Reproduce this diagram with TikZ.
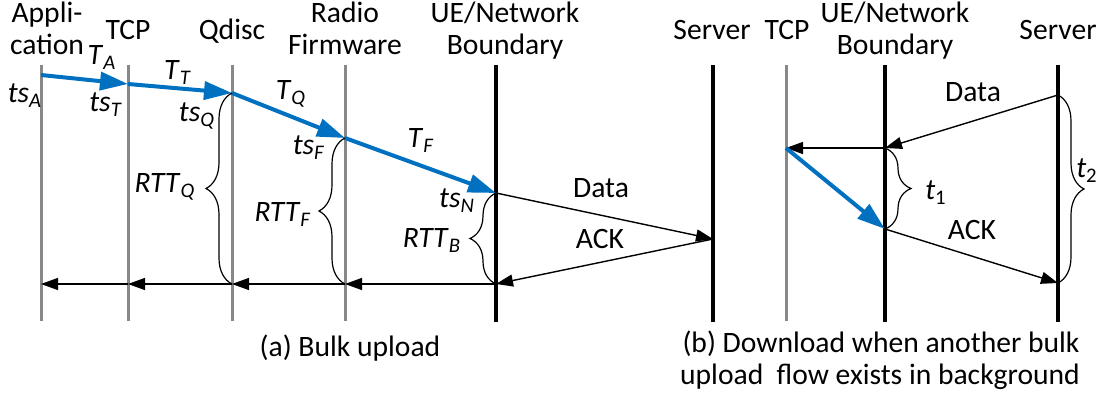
\documentclass[tikz,border=0pt]{standalone}
\usepackage{fontspec}
\setmainfont{Carlito}
\usetikzlibrary{arrows.meta,decorations.pathreplacing}
\definecolor{linegray}{RGB}{136,136,136}
\definecolor{arrowblue}{RGB}{0,112,192}
\newcommand\sublab[2]{\textit{#1}\textsubscript{\textit{#2}}}
\begin{document}
\begin{tikzpicture}[x=0.5pt,y=-0.5pt,
  every node/.style={font=\fontsize{14.8}{16}\selectfont, inner sep=0pt},
  lbl/.style={anchor=base},
  grayline/.style={draw=linegray, line width=1.5pt},
  blackline/.style={draw=black, line width=1.6pt},
  flow/.style={draw=arrowblue, line width=2pt, -{Triangle[length=14pt,width=9pt]}},
  msg/.style={draw=black, line width=0.7pt, -{Triangle[length=8.5pt,width=6pt]}},
  bracestyle/.style={draw=black, line width=0.6pt, decorate, decoration={brace, amplitude=13pt}},
]
\useasboundingbox (0,0) rectangle (1103,400);

% timelines
\foreach \n/\x in {app/41, tcp/128, qd/232, rf/345, tcpb/786}{
  \coordinate (\n top) at (\x,65);
  \coordinate (\n bot) at (\x,321);
  \draw[grayline] (\n top) -- (\n bot);
}
\foreach \n/\x in {ue/496, srv/713, ueb/885, srvb/1058}{
  \coordinate (\n top) at (\x,65);
  \coordinate (\n bot) at (\x,322);
  \draw[blackline] (\n top) -- (\n bot);
}

% headers
\node[lbl] (h1a) at (47,23) {Appli-};
\node[lbl] (h1b) at (47,55) {cation};
\node[lbl] (h2) at (128,40) {TCP};
\node[lbl] (h3) at (232,40) {Qdisc};
\node[lbl] (h4a) at (345,23) {Radio};
\node[lbl] (h4b) at (345,55) {Firmware};
\node[lbl] (h5a) at (505,23) {UE/Network};
\node[lbl] (h5b) at (505,55) {Boundary};
\node[lbl] (h6) at (712,40) {Server};
\node[lbl] (h7) at (787,40) {TCP};
\node[lbl] (h8a) at (895,23) {UE/Network};
\node[lbl] (h8b) at (895,55) {Boundary};
\node[lbl] (h9) at (1058,40) {Server};

% event points (a)
\coordinate (pA) at (41,75);
\coordinate (pT) at (128,84);
\coordinate (pQ) at (232,93);
\coordinate (pF) at (345,138);
\coordinate (pN) at (496,193);
\coordinate (pS) at (713,239);
\coordinate (pR) at (496,284);
\coordinate (rF) at (345,284);
\coordinate (rQ) at (232,284);
\coordinate (rT) at (128,284);
\coordinate (rA) at (41,284);

% blue flow (a)
\draw[flow] (pA) -- (pT);
\draw[flow] (pT) -- (pQ);
\draw[flow] (pQ) -- (pF);
\draw[flow] (pF) -- (pN);

% messages (a)
\draw[msg] (pN) -- (pS);
\draw[msg] (pS) -- (pR);
\draw[msg] (pR) -- (rF);
\draw[msg] (rF) -- (rQ);
\draw[msg] (rQ) -- (rT);
\draw[msg] (rT) -- (rA);

% braces (a)
\draw[bracestyle] (rQ) -- (pQ);
\draw[bracestyle] (rF) -- (pF);
\draw[bracestyle] (pR) -- (pN);

% labels (a)
\node[lbl] (lTA) at (102,65) {\sublab{T}{A}};
\node[lbl] (lTT) at (178,80) {\sublab{T}{T}};
\node[lbl] (lTQ) at (291,100) {\sublab{T}{Q}};
\node[lbl] (lTF) at (421,148) {\sublab{T}{F}};
\node[lbl] (ltsA) at (25,103) {\sublab{ts}{A}};
\node[lbl] (ltsT) at (106,112) {\sublab{ts}{T}};
\node[lbl] (ltsQ) at (197,122) {\sublab{ts}{Q}};
\node[lbl] (ltsF) at (309,155) {\sublab{ts}{F}};
\node[lbl] (ltsN) at (457,208) {\sublab{ts}{N}};
\node[lbl] (lRQ) at (165,193) {\sublab{RTT}{Q}};
\node[lbl] (lRF) at (283,222) {\sublab{RTT}{F}};
\node[lbl] (lRB) at (432,248) {\sublab{RTT}{B}};
\node[lbl] (lDa) at (601,198) {Data};
\node[lbl] (lAa) at (600,249) {ACK};

% event points (b)
\coordinate (bS1) at (1058,95);
\coordinate (bU1) at (885,148);
\coordinate (bT) at (786,148);
\coordinate (bU2) at (885,229);
\coordinate (bS2) at (1058,283);

\draw[msg] (bS1) -- (bU1);
\draw[msg] (bU1) -- (bT);
\draw[flow] (bT) -- (bU2);
\draw[msg] (bU2) -- (bS2);
\draw[bracestyle] (bU1) -- (bU2);
\draw[bracestyle] (bS1) -- (bS2);

\node[lbl] (lDb) at (973,102) {Data};
\node[lbl] (lAb) at (972,240) {ACK};
\node[lbl] (lt1) at (936,200) {\textit{t}\textsubscript{1}};
\node[lbl] (lt2) at (1087,178) {\textit{t}\textsubscript{2}};

% captions
\node[lbl] (capa) at (350,357) {(a) Bulk upload};
\node[lbl] (capb1) at (881,353) {(b) Download when another bulk};
\node[lbl] (capb2) at (880,385) {upload\ \ flow exists in background};
\end{tikzpicture}
\end{document}
